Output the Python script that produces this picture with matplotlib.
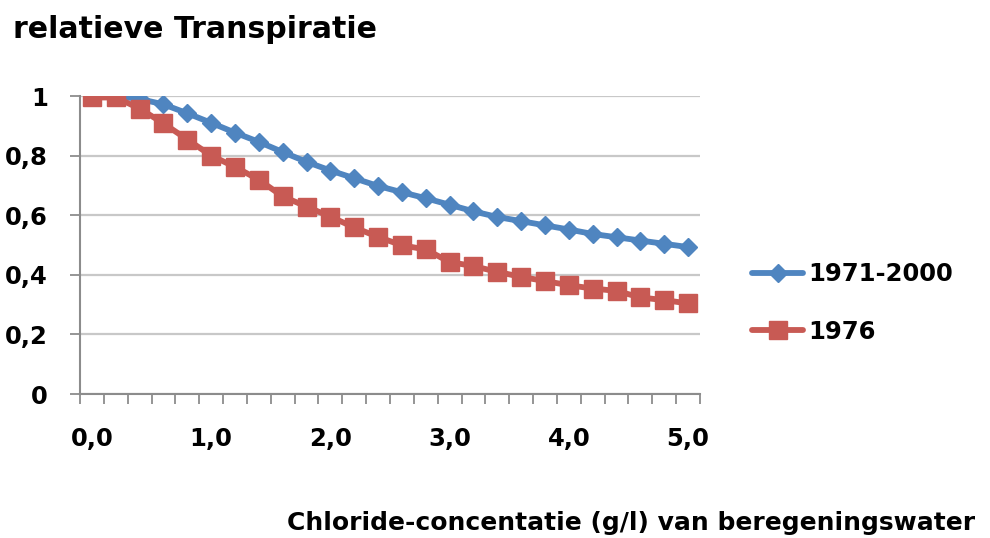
import matplotlib
matplotlib.use("Agg")
import matplotlib.pyplot as plt
from matplotlib.ticker import FixedLocator, FuncFormatter

plt.rcParams["font.family"] = ["DejaVu Sans"]
plt.rcParams["font.weight"] = "bold"

# Chloride concentration of the irrigation water (g/l), one category per 0,2 g/l
concentration = [0.0, 0.2, 0.4, 0.6, 0.8, 1.0, 1.2, 1.4, 1.6, 1.8,
                 2.0, 2.2, 2.4, 2.6, 2.8, 3.0, 3.2, 3.4, 3.6, 3.8,
                 4.0, 4.2, 4.4, 4.6, 4.8, 5.0]

# Relative transpiration for an average year and for the dry year 1976
series_names = ["1971-2000", "1976"]
avg_1971_2000 = [1.000, 1.000, 0.990, 0.972, 0.942, 0.910, 0.877, 0.846, 0.812, 0.779,
                 0.750, 0.724, 0.698, 0.677, 0.657, 0.635, 0.613, 0.594, 0.580, 0.566,
                 0.552, 0.537, 0.526, 0.515, 0.504, 0.493]
year_1976 = [0.995, 0.995, 0.958, 0.908, 0.854, 0.800, 0.762, 0.719, 0.663, 0.629,
             0.595, 0.559, 0.527, 0.499, 0.485, 0.443, 0.429, 0.410, 0.393, 0.379,
             0.365, 0.354, 0.346, 0.324, 0.315, 0.304]

y_ticks = [0, 0.2, 0.4, 0.6, 0.8, 1.0]
x_label_ticks = [0, 1, 2, 3, 4, 5]

blue = "#4F85C0"
red = "#C85A54"
axis_grey = "#8C8C8C"
grid_grey = "#C8C8C8"
tick_size = 17.5

fig = plt.figure(figsize=(9.9, 5.38), dpi=100)
ax = fig.add_axes([80 / 990, 1 - 394 / 538, 620 / 990, 298 / 538])

for values, name, colour, marker, size, z in (
        (avg_1971_2000, series_names[0], blue, "D", 8.8, 3),
        (year_1976, series_names[1], red, "s", 13.2, 4)):
    ax.plot(concentration, values, color=colour, lw=4.2, marker=marker, ms=size,
            mec=colour, mfc=colour, label=name, zorder=z,
            solid_capstyle="round", solid_joinstyle="round")

step = concentration[1] - concentration[0]
ax.set_xlim(concentration[0] - step / 2, concentration[-1] + step / 2)
ax.set_ylim(0, 1)

# category boundaries as tick marks, labels every fifth category
boundaries = [c - step / 2 for c in concentration] + [concentration[-1] + step / 2]
ax.xaxis.set_minor_locator(FixedLocator(boundaries))
ax.xaxis.set_major_locator(FixedLocator(x_label_ticks))
ax.xaxis.set_major_formatter(FuncFormatter(lambda v, p: f"{v:.1f}".replace(".", ",")))
ax.tick_params(axis="x", which="major", length=0, pad=24, labelsize=tick_size)
ax.tick_params(axis="x", which="minor", length=7.5, width=1.3, color=axis_grey,
               direction="out")

ax.yaxis.set_major_locator(FixedLocator(y_ticks))
ax.yaxis.set_major_formatter(FuncFormatter(
    lambda v, p: "0" if v == 0 else ("1" if v == 1 else f"{v:.1f}".replace(".", ","))))
ax.tick_params(axis="y", length=7.5, width=1.3, color=axis_grey, pad=15.5,
               labelsize=tick_size)

ax.grid(axis="y", color=grid_grey, lw=1.6)
ax.set_axisbelow(True)
for side in ("top", "right"):
    ax.spines[side].set_visible(False)
for side in ("left", "bottom"):
    ax.spines[side].set_color(axis_grey)
    ax.spines[side].set_linewidth(1.5)

fig.text(13 / 990, 1 - 38 / 538, "relatieve Transpiratie", fontsize=21.6,
         fontweight="bold", ha="left", va="baseline")
fig.text(975 / 990, 1 - 530 / 538, "Chloride-concentatie (g/l) van beregeningswater",
         fontsize=18, fontweight="bold", ha="right", va="baseline")

fig.legend(loc="center left", bbox_to_anchor=(752 / 990, 1 - 303 / 538),
           frameon=False, fontsize=tick_size, handlelength=2.1, handletextpad=0.2,
           labelspacing=1.36, borderpad=0, borderaxespad=0)

fig.savefig("out.png", dpi=100)
